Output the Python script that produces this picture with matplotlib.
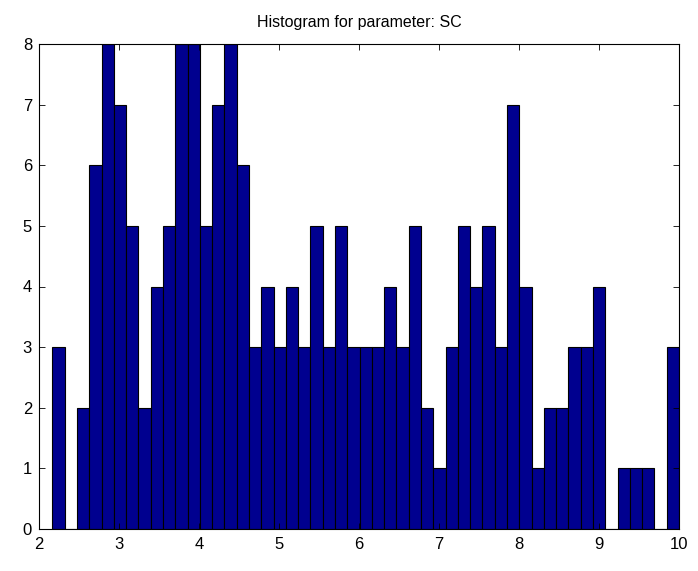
import numpy as np
import matplotlib
matplotlib.use("Agg")
import matplotlib.pyplot as plt

plt.rcParams['font.family'] = ['Liberation Sans', 'DejaVu Sans']

# histogram counts (51 bins between ~2.167 and 10)
counts = [3, 0, 2, 6, 8, 7, 5, 2, 4, 5, 8, 8, 5, 7, 8, 6,
          3, 4, 3, 4, 3, 5, 3, 5, 3, 3, 3, 4, 3, 5, 2, 1, 3,
          5, 4, 5, 3, 7, 4, 1, 2, 2, 3, 3, 4, 0, 1, 1, 1, 0, 3]
x_min = 2.167
x_max = 10.0
edges = np.linspace(x_min, x_max, len(counts) + 1)
xticks = [2, 3, 4, 5, 6, 7, 8, 9, 10]
yticks = [0, 1, 2, 3, 4, 5, 6, 7, 8]

fig = plt.figure(figsize=(6.98, 5.71), dpi=100)
ax = fig.add_axes([39 / 698, 1 - 529 / 571, 640 / 698, 485 / 571])

ax.bar(edges[:-1], counts, width=np.diff(edges), align='edge',
       color='#00008F', edgecolor='black', linewidth=0.8)

ax.set_xlim(2, 10)
ax.set_ylim(0, 8)
ax.set_xticks(xticks)
ax.set_yticks(yticks)
ax.tick_params(direction='in', top=True, right=True, length=4, width=0.6,
               labelsize=12)
ax.tick_params(axis='x', pad=6)
ax.tick_params(axis='y', pad=5)
for s in ax.spines.values():
    s.set_linewidth(0.8)
ax.set_title("Histogram for parameter: SC", fontsize=11.5, pad=12)

fig.savefig("out.png", dpi=100)
